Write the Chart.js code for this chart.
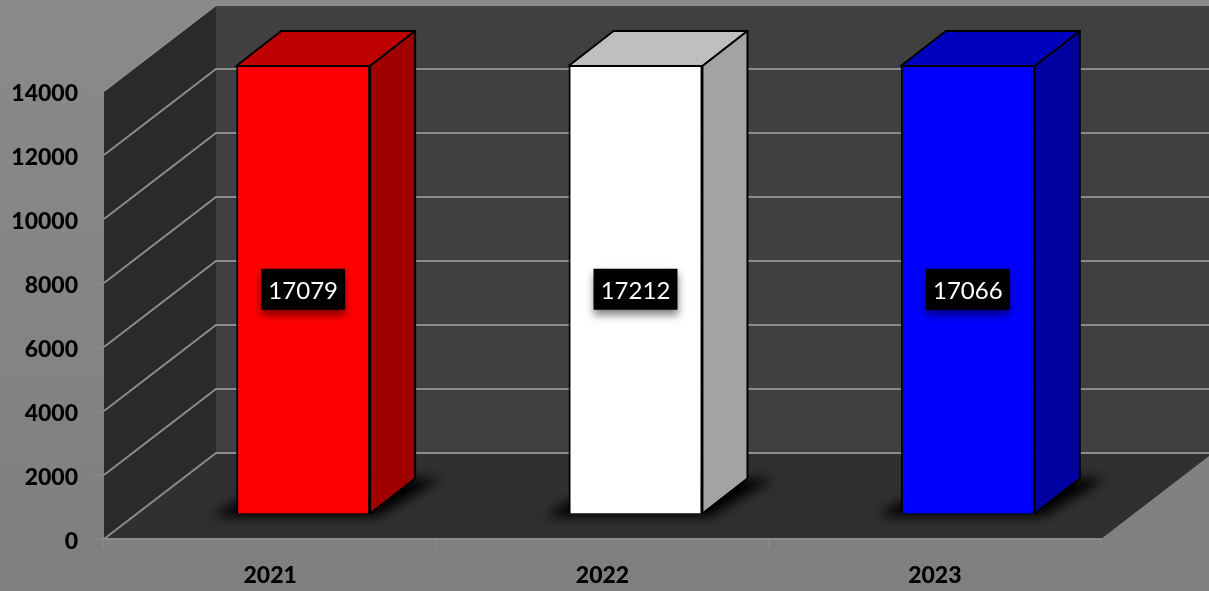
<!DOCTYPE html>
<html>
<head>
<meta charset="utf-8">
<title>Chart</title>
<script src="https://cdn.jsdelivr.net/npm/chart.js@4"></script>
<style>
    html, body { margin: 0; padding: 0; background: #848484; overflow: hidden; }
    canvas { display: block; }
</style>
</head>
<body>
<canvas id="chart" width="1209" height="591"></canvas>
<script>
const years = ['2021', '2022', '2023'];
const counts = [17079, 17212, 17066];
const axisMax = 14000;
const axisStep = 2000;

const frontColors = ['#ff0000', '#ffffff', '#0000ff'];
const topColors = ['#bf0000', '#bfbfbf', '#0000bf'];
const sideColors = ['#a00000', '#a3a3a3', '#0000a0'];

// depth of the box the chart sits in, and where the bars stand inside it
const WALL_DX = 112, WALL_DY = -86;
const BAR_DX = 33, BAR_DY = -25;
const BAR_DEPTH_X = 45, BAR_DEPTH_Y = -35;

function poly(ctx, pts, fill) {
    ctx.beginPath();
    pts.forEach((p, i) => i ? ctx.lineTo(p[0], p[1]) : ctx.moveTo(p[0], p[1]));
    ctx.closePath();
    if (fill) {
        ctx.fillStyle = fill;
        ctx.fill();
    }
}

// bar values go past the axis, so the visible box stops at the top of the axis
function barBox(chart, bar) {
    const top = Math.max(bar.y, chart.chartArea.top) + BAR_DY;
    const bottom = bar.base + BAR_DY;
    const left = bar.x - bar.width / 2 + BAR_DX;
    const right = bar.x + bar.width / 2 + BAR_DX;
    return { top, bottom, left, right };
}

const box3d = {
    id: 'box3d',
    beforeDraw(chart) {
        const { ctx, chartArea: a, width, height, scales } = chart;
        const bg = ctx.createLinearGradient(0, 0, 0, height);
        bg.addColorStop(0, '#8a8a8a');
        bg.addColorStop(1, '#7f7f7f');
        ctx.fillStyle = bg;
        ctx.fillRect(0, 0, width, height);

        const backL = a.left + WALL_DX, backR = a.right + WALL_DX;
        const backT = a.top + WALL_DY, backB = a.bottom + WALL_DY;
        poly(ctx, [[backL, backT], [backR, backT], [backR, backB], [backL, backB]], '#404040');
        poly(ctx, [[a.left, a.top], [backL, backT], [backL, backB], [a.left, a.bottom]], '#2a2a2a');
        poly(ctx, [[a.left, a.bottom], [backL, backB], [backR, backB], [a.right, a.bottom]], '#303030');

        ctx.strokeStyle = '#8c8c8c';
        ctx.lineWidth = 2;
        scales.y.ticks.forEach(t => {
            const y = scales.y.getPixelForValue(t.value);
            ctx.beginPath();
            ctx.moveTo(a.left, y);
            ctx.lineTo(backL, y + WALL_DY);
            ctx.lineTo(backR, y + WALL_DY);
            ctx.stroke();
        });
    },
    beforeDatasetsDraw(chart) {
        const { ctx } = chart;
        chart.getDatasetMeta(0).data.forEach(bar => {
            const b = barBox(chart, bar);
            ctx.save();
            ctx.filter = 'blur(6px)';
            poly(ctx, [
                [b.left - 24, b.bottom + 3],
                [b.right + 8, b.bottom + 3],
                [b.right + BAR_DEPTH_X + 26, b.bottom + BAR_DEPTH_Y],
                [b.right + BAR_DEPTH_X - 20, b.bottom + BAR_DEPTH_Y],
                [b.left, b.bottom - 12]
            ], '#000000');
            ctx.restore();
        });
    },
    beforeDatasetDraw(chart) {
        chart.ctx.save();
        chart.ctx.translate(BAR_DX, BAR_DY);
    },
    afterDatasetDraw(chart) {
        const { ctx } = chart;
        ctx.restore();
        chart.getDatasetMeta(0).data.forEach((bar, i) => {
            const b = barBox(chart, bar);
            const dx = BAR_DEPTH_X, dy = BAR_DEPTH_Y;
            ctx.save();
            ctx.strokeStyle = '#000000';
            ctx.lineWidth = 2;
            ctx.lineJoin = 'round';
            poly(ctx, [[b.left, b.top], [b.left + dx, b.top + dy], [b.right + dx, b.top + dy], [b.right, b.top]], topColors[i]);
            ctx.stroke();
            poly(ctx, [[b.right, b.top], [b.right + dx, b.top + dy], [b.right + dx, b.bottom + dy], [b.right, b.bottom]], sideColors[i]);
            ctx.stroke();
            ctx.restore();
        });
    },
    afterDatasetsDraw(chart) {
        const { ctx } = chart;
        chart.getDatasetMeta(0).data.forEach((bar, i) => {
            const b = barBox(chart, bar);
            const cx = (b.left + b.right) / 2;
            const cy = (b.top + b.bottom) / 2;
            ctx.save();
            ctx.shadowColor = 'rgba(0,0,0,0.5)';
            ctx.shadowBlur = 8;
            ctx.shadowOffsetY = 5;
            ctx.fillStyle = '#000000';
            ctx.fillRect(cx - 42, cy - 21, 84, 41);
            ctx.restore();
            ctx.fillStyle = '#ffffff';
            ctx.font = '24px Lato';
            ctx.textAlign = 'center';
            ctx.textBaseline = 'middle';
            ctx.fillText(String(counts[i]), cx, cy + 2);
        });
    }
};

new Chart(document.getElementById('chart').getContext('2d'), {
    type: 'bar',
    data: {
        labels: years,
        datasets: [{
            data: counts,
            backgroundColor: frontColors,
            borderColor: '#000000',
            borderWidth: 2,
            barPercentage: 0.403,
            categoryPercentage: 1,
            clip: { left: 5, right: 5, top: 0, bottom: 5 }
        }]
    },
    options: {
        responsive: false,
        animation: false,
        layout: { padding: { top: 91, right: 108, left: 0, bottom: 0 } },
        plugins: {
            legend: { display: false },
            tooltip: { enabled: false },
            title: { display: false }
        },
        scales: {
            x: {
                afterFit: scale => { scale.height = 52; },
                grid: { drawOnChartArea: false, color: '#8c8c8c', tickLength: 9, offset: true },
                border: { color: '#8c8c8c', width: 2 },
                ticks: {
                    color: '#000000',
                    padding: 14,
                    font: { family: 'Lato', size: 23, weight: '900' },
                    maxRotation: 0
                }
            },
            y: {
                min: 0,
                max: axisMax,
                afterFit: scale => { scale.width = 104; },
                grid: { drawOnChartArea: false, color: '#8c8c8c', tickLength: 9 },
                border: { display: false },
                ticks: {
                    stepSize: axisStep,
                    callback: value => String(value),
                    color: '#000000',
                    padding: 17,
                    labelOffset: 3,
                    font: { family: 'Lato', size: 23, weight: '900' }
                }
            }
        }
    },
    plugins: [box3d]
});
</script>
</body>
</html>
